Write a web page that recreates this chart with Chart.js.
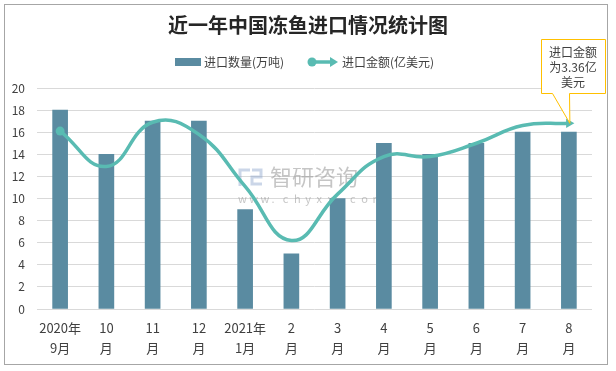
<!DOCTYPE html>
<html>
<head>
<meta charset="utf-8">
<script src="https://cdn.jsdelivr.net/npm/chart.js@4"></script>
<style>
  html, body { margin: 0; padding: 0; background: #fff; }
  #wrap { width: 616px; height: 371px; }
</style>
</head>
<body>
<div id="wrap"><canvas id="fishChart" width="616" height="371"></canvas></div>
<script>
// data
const months = [["2020年", "9月"], ["10", "月"], ["11", "月"], ["12", "月"], ["2021年", "1月"], ["2", "月"],
  ["3", "月"], ["4", "月"], ["5", "月"], ["6", "月"], ["7", "月"], ["8", "月"]];
const importVolume = [18, 14, 17, 17, 9, 5, 10, 15, 14, 15, 16, 16];
const importValue = [16.1, 12.9, 16.9, 15.8, 11.1, 6.2, 10.4, 13.8, 13.8, 15.0, 16.6, 16.8];
const yMin = 0, yMax = 20, yStep = 2;
const calloutLines = ["进口金额", "为3.36亿", "美元"];

const barColor = "rgb(90,139,161)";
const lineColor = "rgb(89,187,178)";
const textColor = "#404040";
const cjk = "'Noto Sans CJK SC', 'Noto Sans', sans-serif";

const lastIdx = importValue.length - 1;
const pointStyles = importValue.map((v, i) => i === lastIdx ? "triangle" : "circle");
const pointRadii = importValue.map((v, i) => i === 0 ? 4.5 : (i === lastIdx ? 5.5 : 0));
const pointRot = importValue.map((v, i) => i === lastIdx ? 90 : 0);

const decor = {
  id: "decor",
  beforeDraw(chart) {
    const c = chart.ctx;
    c.save();
    c.fillStyle = "#fff";
    c.fillRect(0, 0, chart.width, chart.height);
    c.strokeStyle = "#a6a6a6";
    c.lineWidth = 1;
    c.strokeRect(4.5, 4.5, 603, 360);

    // title
    c.fillStyle = "#262626";
    c.font = "bold 20px " + cjk;
    c.textAlign = "center";
    c.textBaseline = "middle";
    c.fillText("近一年中国冻鱼进口情况统计图", 308, 25);

    // legend
    c.font = "12px " + cjk;
    c.textAlign = "left";
    c.fillStyle = barColor;
    c.fillRect(175, 58, 26, 8);
    c.fillStyle = textColor;
    c.fillText("进口数量(万吨)", 204, 62);

    c.strokeStyle = lineColor;
    c.fillStyle = lineColor;
    c.lineWidth = 3.5;
    c.beginPath();
    c.moveTo(312, 62);
    c.lineTo(332, 62);
    c.stroke();
    c.beginPath();
    c.arc(312, 62, 4.5, 0, Math.PI * 2);
    c.fill();
    c.beginPath();
    c.moveTo(338, 62);
    c.lineTo(330, 57);
    c.lineTo(330, 67);
    c.closePath();
    c.fill();
    c.fillStyle = textColor;
    c.fillText("进口金额(亿美元)", 342, 62);
    c.restore();
  },
  beforeDatasetsDraw(chart) {
    // watermark
    const c = chart.ctx;
    c.save();
    c.strokeStyle = "rgba(140,165,205,0.45)";
    c.lineWidth = 3;
    c.beginPath();
    c.moveTo(240, 186); c.lineTo(240, 170); c.lineTo(250, 170);
    c.moveTo(252, 170); c.lineTo(261, 170); c.lineTo(261, 177); c.lineTo(252, 177); c.lineTo(252, 184); c.lineTo(262, 184);
    c.stroke();
    c.fillStyle = "rgba(150,150,150,0.55)";
    c.font = "22px " + cjk;
    c.textAlign = "left";
    c.textBaseline = "middle";
    c.fillText("智研咨询", 270, 177);
    c.font = "11px " + cjk;
    const url = "www.chyxx.com";
    for (let i = 0; i < url.length; i++) {
      c.fillText(url[i], 238 + i * 11.2, 199);
    }
    c.restore();
  },
  afterDraw(chart) {
    // callout pointing at the last amount point
    const pt = chart.getDatasetMeta(0).data[lastIdx];
    const c = chart.ctx;
    c.save();
    c.strokeStyle = "#ffc000";
    c.fillStyle = "#fff";
    c.lineWidth = 1;
    c.beginPath();
    c.moveTo(541.5, 39.5);
    c.lineTo(605.5, 39.5);
    c.lineTo(605.5, 93.5);
    c.lineTo(569.5, 93.5);
    c.lineTo(pt.x + 1, pt.y);
    c.lineTo(552.5, 93.5);
    c.lineTo(541.5, 93.5);
    c.closePath();
    c.fill();
    c.stroke();
    c.fillStyle = textColor;
    c.font = "12px " + cjk;
    c.textAlign = "center";
    c.textBaseline = "middle";
    calloutLines.forEach((t, i) => c.fillText(t, 573, 52 + i * 15));
    c.restore();
  }
};

const ctx = document.getElementById("fishChart").getContext("2d");
const fishChart = new Chart(ctx, {
  type: "bar",
  data: {
    labels: months,
    datasets: [
      {
        type: "line",
        label: "进口金额(亿美元)",
        data: importValue,
        order: 0,
        borderColor: lineColor,
        backgroundColor: lineColor,
        borderWidth: 3.5,
        tension: 0.45,
        fill: false,
        pointStyle: pointStyles,
        pointRadius: pointRadii,
        pointRotation: pointRot,
        pointBorderWidth: 0,
        pointBackgroundColor: lineColor,
      },
      {
        label: "进口数量(万吨)",
        data: importVolume,
        order: 1,
        backgroundColor: barColor,
        barThickness: 15,
      },
    ],
  },
  options: {
    responsive: false,
    animation: false,
    layout: {
      padding: { top: 88, right: 24, bottom: 10, left: 0 },
    },
    plugins: {
      legend: { display: false },
      title: { display: false },
      tooltip: { enabled: false },
    },
    scales: {
      x: {
        grid: { display: false, drawTicks: false },
        border: { display: false },
        ticks: {
          color: textColor,
          padding: 9,
          maxRotation: 0,
          autoSkip: false,
          font: { family: cjk, size: 13, lineHeight: "20px" },
        },
        afterFit(scale) { scale.height = 52; },
      },
      y: {
        min: yMin,
        max: yMax,
        grid: { color: "#d9d9d9", drawTicks: false },
        border: { display: false },
        ticks: {
          stepSize: yStep,
          color: textColor,
          padding: 12,
          font: { family: cjk, size: 12 },
        },
        afterFit(scale) { scale.width = 37; },
      },
    },
  },
  plugins: [decor],
});
</script>
</body>
</html>
